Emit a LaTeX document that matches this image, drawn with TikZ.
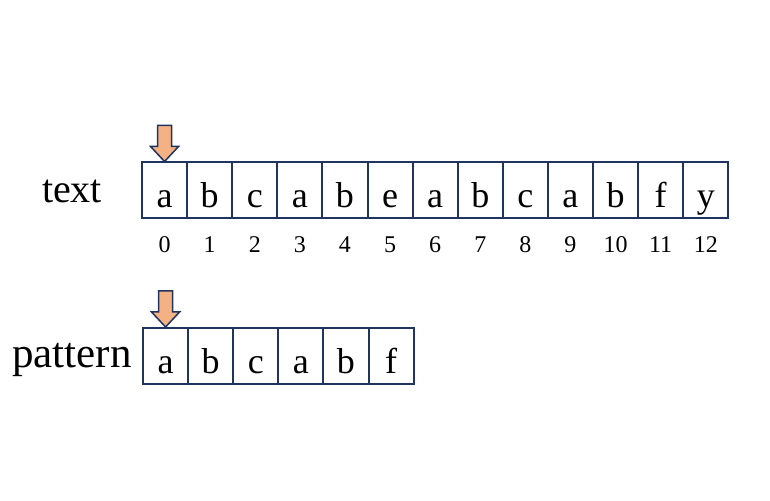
\documentclass[tikz,border=0pt]{standalone}
\usepackage{fontspec}
\setmainfont{Liberation Serif}
\usetikzlibrary{positioning}
\usetikzlibrary{calc}

\definecolor{boxline}{HTML}{1F3560}
\definecolor{ptrfill}{HTML}{F4B183}

\tikzset{
  cell/.style={draw=boxline, line width=2pt, rectangle, minimum width=45.1pt, minimum height=56pt,
    inner sep=0pt, text height=36pt, text depth=1pt, font=\fontsize{36}{38}\selectfont},
  idx/.style={inner sep=0pt, font=\fontsize{24}{26}\selectfont},
  rowname/.style={inner sep=0pt, anchor=base, font=\fontsize{40}{42}\selectfont},
  ptr/.style={draw=boxline, fill=ptrfill, line width=1.5pt, line join=miter}
}

\begin{document}
\begin{tikzpicture}[x=1pt, y=1pt]
  \useasboundingbox (0,0) rectangle (770,500);
  % Define the arrays of letters
  \def\textchars{{"a","b","c","a","b","e","a","b","c","a","b","f","y"}}
  \def\patchars{{"a","b","c","a","b","f"}}

  % text row with its indices
  \foreach \i in {0,...,12} {
    \pgfmathsetmacro\ch{\textchars[\i]}
    \node[cell] (t\i) at ({142 + 45.1*(\i + 0.5)}, 309.5) {\ch};
    \node[idx] (n\i) at ($(t\i.south) + (0,-25)$) {\i};
  }
  % pattern row
  \foreach \i in {0,...,5} {
    \pgfmathsetmacro\ch{\patchars[\i]}
    \node[cell] (p\i) at ({143 + 45.1*(\i + 0.5)}, 144) {\ch};
  }

  \node[rowname] (textname) at (72, 297) {text};
  \node[rowname, font=\fontsize{43}{45}\selectfont] (patname) at (72, 132) {pattern};

  % pointers
  \draw[ptr] (t0.north) -- ++(-14,15) -- ++(7,0) -- ++(0,21) -- ++(14,0) -- ++(0,-21) -- ++(7,0) -- cycle;
  \draw[ptr] (p0.north) -- ++(-14,15) -- ++(7,0) -- ++(0,21) -- ++(14,0) -- ++(0,-21) -- ++(7,0) -- cycle;
\end{tikzpicture}
\end{document}
